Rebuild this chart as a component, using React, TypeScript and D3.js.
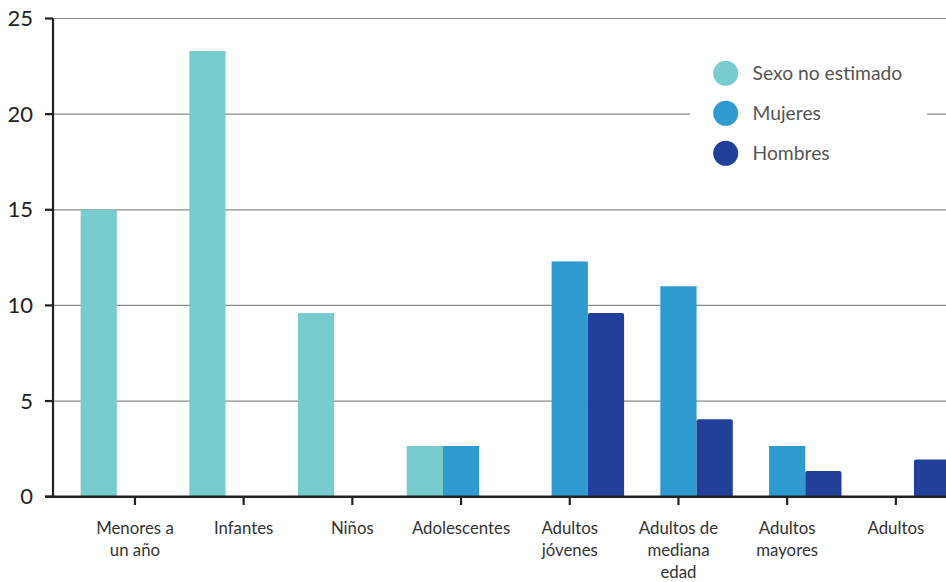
import React from "react";
import * as d3 from "d3";

const categories: string[][] = [
  ["Menores a", "un año"],
  ["Infantes"],
  ["Niños"],
  ["Adolescentes"],
  ["Adultos", "jóvenes"],
  ["Adultos de", "mediana", "edad"],
  ["Adultos", "mayores"],
  ["Adultos"],
];
const categoryKeys = categories.map((c, i) => `${i}-${c.join(" ")}`);

const seriesNames = ["Sexo no estimado", "Mujeres", "Hombres"];
const sexoNoEstimado = [15.0, 23.3, 9.6, 2.65, 0, 0, 0, 0];
const mujeres = [0, 0, 0, 2.65, 12.3, 11.0, 2.65, 0];
const hombres = [0, 0, 0, 0, 9.6, 4.05, 1.35, 1.95];
const seriesValues = [sexoNoEstimado, mujeres, hombres];
const seriesColors = ["#78CCCD", "#2E9AD0", "#22409A"];

const yTicks = [0, 5, 10, 15, 20, 25];

const W = 946;
const H = 582;
const axisX = 53;
const font = "Lato, 'Source Sans Pro', 'Noto Sans', sans-serif";

export default function App() {
  const y = d3.scaleLinear().domain([0, 25]).range([496.7, 18.5]);
  const x = d3.scaleBand().domain(categoryKeys).range([80.6, 950.2]).padding(0);
  const xs = d3.scaleBand().domain(seriesNames).range([0, x.bandwidth()]).padding(0);
  const y0 = y(0);

  const legendY = [73.3, 113.3, 153.3];

  return (
    <div style={{ position: "fixed", left: 0, top: 0 }}>
      <svg width={W} height={H} style={{ display: "block", background: "#fff" }}>
        {/* grid lines */}
        {yTicks
          .filter((t) => t > 0)
          .map((t) => (
            <line key={t} x1={axisX} x2={W} y1={y(t)} y2={y(t)} stroke="#8a8a8a" strokeWidth={1.2} />
          ))}

        {/* legend backdrop */}
        <rect x={690} y={55} width={237} height={118} fill="#fff" />

        {/* bars */}
        {categoryKeys.map((key, ci) => (
          <g key={key} transform={`translate(${x(key)},0)`}>
            {seriesNames.map((s, si) => {
              const v = seriesValues[si][ci];
              if (!v) return null;
              const top = y(v);
              const bx = xs(s)!;
              const bw = xs.bandwidth();
              if (si === 2) {
                const r = 2;
                const d = `M${bx},${y0}V${top + r}Q${bx},${top} ${bx + r},${top}H${bx + bw - r}Q${bx + bw},${top} ${bx + bw},${top + r}V${y0}Z`;
                return <path key={s} d={d} fill={seriesColors[si]} />;
              }
              return <rect key={s} x={bx} y={top} width={bw} height={y0 - top} fill={seriesColors[si]} />;
            })}
          </g>
        ))}

        {/* y axis */}
        <line x1={axisX} x2={axisX} y1={y(25)} y2={y0} stroke="#222" strokeWidth={2.2} />
        {yTicks.map((t) => (
          <g key={t}>
            <line x1={45} x2={axisX} y1={y(t)} y2={y(t)} stroke="#222" strokeWidth={2.2} />
            <text
              x={33}
              y={y(t)}
              dy="0.35em"
              textAnchor="end"
              fontFamily={font}
              fontSize={22}
              fill="#222"
            >
              {t}
            </text>
          </g>
        ))}

        {/* x axis */}
        <line x1={45} x2={W} y1={y0} y2={y0} stroke="#222" strokeWidth={2.4} />
        {categoryKeys.map((key, ci) => {
          const cx = x(key)! + x.bandwidth() / 2;
          return (
            <g key={key}>
              <line x1={cx} x2={cx} y1={y0} y2={505} stroke="#222" strokeWidth={2.2} />
              <text textAnchor="middle" fontFamily={font} fontSize={16.8} fill="#333">
                {categories[ci].map((line, li) => (
                  <tspan key={li} x={cx} y={534 + li * 22}>
                    {line}
                  </tspan>
                ))}
              </text>
            </g>
          );
        })}

        {/* legend */}
        {seriesNames.map((s, i) => (
          <g key={s}>
            <circle cx={725.7} cy={legendY[i]} r={12.5} fill={seriesColors[i]} />
            <text
              x={752.5}
              y={legendY[i]}
              dy="0.35em"
              fontFamily={font}
              fontSize={19.3}
              fill="#555"
            >
              {s}
            </text>
          </g>
        ))}
      </svg>
    </div>
  );
}
